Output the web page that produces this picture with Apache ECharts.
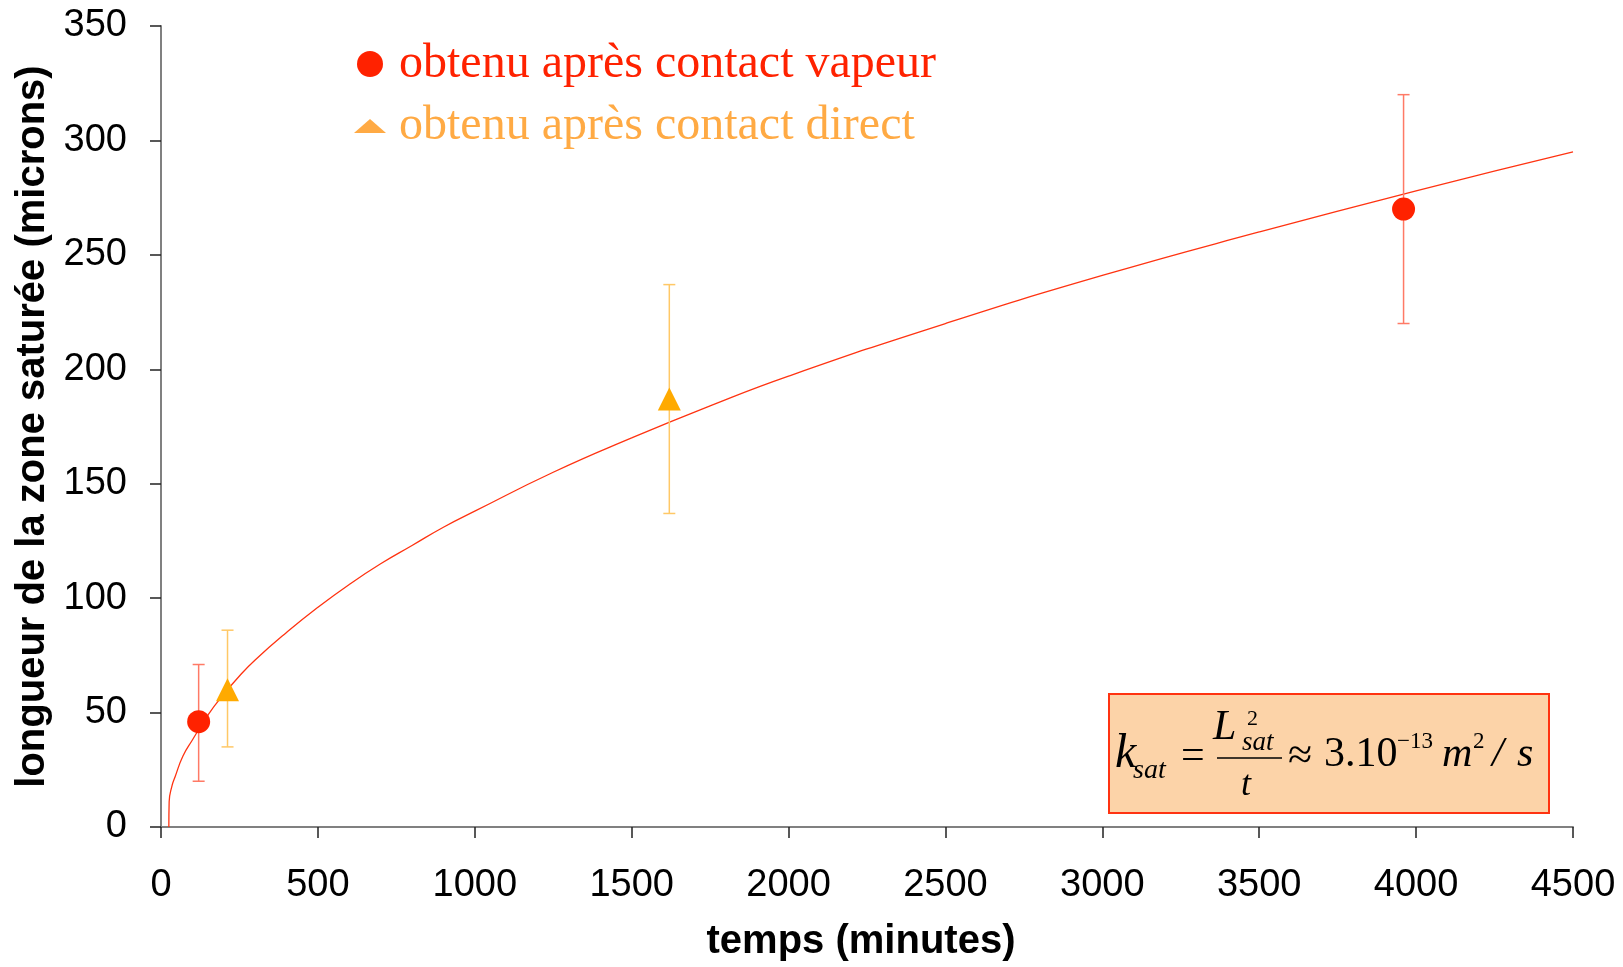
<!DOCTYPE html>
<html>
<head>
<meta charset="utf-8">
<title>Longueur de la zone saturée</title>
<script src="https://cdn.jsdelivr.net/npm/echarts@6/dist/echarts.min.js"></script>
<style>
  html, body { margin: 0; padding: 0; background: #ffffff; }
  #chart { width: 1623px; height: 967px; }
</style>
</head>
<body>
<div id="chart"></div>
<script>
// Axis ticks
const xMax = 4500, xStep = 500;
const yMax = 350, yStep = 50;

// Measurements after vapour contact: time (min), length (µm), error-bar low/high
const vaporTime = [120, 3960];
const vaporLength = [46, 270];
const vaporLow = [20, 220];
const vaporHigh = [71, 320];

// Measurements after direct contact
const directTime = [212, 1620];
const directLength = [60, 187];
const directLow = [35, 137];
const directHigh = [86, 237];

// Fitted saturation front L = sqrt(k_sat * t), sampled points
const fitTime = [25, 26, 35, 45, 70, 100, 150, 200, 250, 300, 400, 500, 600, 700, 800, 900, 1000, 1250, 1500, 1750, 2000, 2500, 3000, 3500, 4000, 4500];
const fitLength = [0, 11, 18, 22, 31, 38, 49, 58, 66, 73, 85, 96, 106, 115, 123, 131, 138, 155, 170, 184, 197, 220, 241, 260, 278, 295];

const nameVapor = 'obtenu après contact vapeur';
const nameDirect = 'obtenu après contact direct';

const RED = '#ff2200';
const ORANGE = '#ffaa00';
const ORANGE_TEXT = '#ffaa44';

const zip = (a, b) => a.map((v, i) => [v, b[i]]);
const zip3 = (a, b, c) => a.map((v, i) => [v, b[i], c[i]]);

function errorBars(color) {
  return function (params, api) {
    const x = api.value(0);
    const top = api.coord([x, api.value(2)]);
    const bot = api.coord([x, api.value(1)]);
    const half = 6;
    const style = { stroke: color, lineWidth: 1.5 };
    return {
      type: 'group',
      children: [
        { type: 'line', shape: { x1: top[0], y1: top[1], x2: bot[0], y2: bot[1] }, style },
        { type: 'line', shape: { x1: top[0] - half, y1: top[1], x2: top[0] + half, y2: top[1] }, style },
        { type: 'line', shape: { x1: bot[0] - half, y1: bot[1], x2: bot[0] + half, y2: bot[1] }, style }
      ]
    };
  };
}

const serif = "'Liberation Serif', 'Times New Roman', serif";
const sans = "'Liberation Sans', Arial, sans-serif";
// place a formula piece by its baseline
function piece(text, x, baseline, size, italic) {
  return {
    type: 'text',
    left: x,
    top: baseline - 0.34 * size - size / 2,
    z: 10,
    style: {
      text: text,
      fill: '#000',
      font: (italic ? 'italic ' : '') + size + 'px ' + serif,
      textAlign: 'left',
      textVerticalAlign: 'middle'
    }
  };
}

const chart = echarts.init(document.getElementById('chart'), null, { renderer: 'canvas' });

chart.setOption({
  backgroundColor: '#ffffff',
  animation: false,
  grid: { left: 161, right: 50, top: 26, bottom: 135, containLabel: false },
  legend: {
    orient: 'vertical',
    left: 354,
    top: 40,
    padding: 0,
    itemGap: 14,
    itemWidth: 32,
    itemHeight: 26,
    selectedMode: false,
    textStyle: {
      fontFamily: serif,
      fontSize: 48,
      lineHeight: 48,
      padding: [0, 0, 0, 8]
    },
    data: [
      { name: nameVapor, icon: 'circle', itemStyle: { color: RED }, textStyle: { color: RED } },
      { name: nameDirect, icon: 'path://M0,14L16,0L32,14Z', itemStyle: { color: ORANGE_TEXT }, textStyle: { color: ORANGE_TEXT } }
    ]
  },
  xAxis: {
    type: 'value',
    min: 0,
    max: xMax,
    interval: xStep,
    name: 'temps (minutes)',
    nameLocation: 'middle',
    nameGap: 95,
    nameTextStyle: { fontFamily: sans, fontWeight: 'bold', fontSize: 40, color: '#000', padding: [0, 12, 0, 0] },
    axisLine: { onZero: false, lineStyle: { color: '#808080', width: 2 } },
    axisTick: { show: true, inside: false, length: 11, lineStyle: { color: '#222', width: 1.5 } },
    axisLabel: { margin: 40, fontFamily: sans, fontSize: 38, color: '#000', formatter: v => String(v) },
    splitLine: { show: false }
  },
  yAxis: {
    type: 'value',
    min: 0,
    max: yMax,
    interval: yStep,
    name: 'longueur de la zone saturée (microns)',
    nameLocation: 'middle',
    nameGap: 103,
    nameRotate: 90,
    nameTextStyle: { fontFamily: sans, fontWeight: 'bold', fontSize: 40, color: '#000' },
    axisLine: { show: true, onZero: false, lineStyle: { color: '#808080', width: 2 } },
    axisTick: { show: true, inside: false, length: 11, lineStyle: { color: '#222', width: 1.5 } },
    axisLabel: { margin: 34, fontFamily: sans, fontSize: 38, color: '#000', formatter: v => String(v) },
    splitLine: { show: false }
  },
  series: [
    {
      name: 'ajustement',
      type: 'line',
      data: zip(fitTime, fitLength),
      smooth: 0.5,
      showSymbol: false,
      lineStyle: { color: '#ff3311', width: 1.3 },
      z: 2,
      silent: true
    },
    {
      name: 'barres vapeur',
      type: 'custom',
      renderItem: errorBars('#ff7a66'),
      data: zip3(vaporTime, vaporLow, vaporHigh),
      z: 3,
      silent: true
    },
    {
      name: 'barres direct',
      type: 'custom',
      renderItem: errorBars('#ffc866'),
      data: zip3(directTime, directLow, directHigh),
      z: 3,
      silent: true
    },
    {
      name: nameVapor,
      type: 'scatter',
      symbol: 'circle',
      symbolSize: 23,
      itemStyle: { color: RED, opacity: 1 },
      data: zip(vaporTime, vaporLength),
      z: 5
    },
    {
      name: nameDirect,
      type: 'scatter',
      symbol: 'triangle',
      symbolSize: 23,
      itemStyle: { color: ORANGE, opacity: 1 },
      data: zip(directTime, directLength),
      z: 5
    }
  ],
  graphic: [
    {
      type: 'rect',
      left: 1108,
      top: 693,
      z: 9,
      shape: { width: 440, height: 119 },
      style: { fill: '#fcd3a8', stroke: '#ff3311', lineWidth: 2 }
    },
    piece('k', 1115, 771, 48, true),
    piece('sat', 1133, 780, 28, true),
    piece('=', 1181, 771, 42, false),
    piece('L', 1213, 742, 42, true),
    piece('2', 1247, 727, 22, false),
    piece('sat', 1242, 752, 27, true),
    {
      type: 'line',
      z: 10,
      shape: { x1: 1217, y1: 758, x2: 1282, y2: 758 },
      style: { stroke: '#000', lineWidth: 1.5 }
    },
    piece('t', 1241, 798, 36, true),
    piece('≈', 1288, 772, 44, false),
    piece('3.10', 1324, 769, 42, false),
    piece('−13', 1397, 750, 23, false),
    piece('m', 1442, 769, 42, true),
    piece('2', 1473, 750, 23, false),
    piece('/', 1492, 769, 42, true),
    piece('s', 1517, 769, 42, true)
  ]
});
</script>
</body>
</html>
